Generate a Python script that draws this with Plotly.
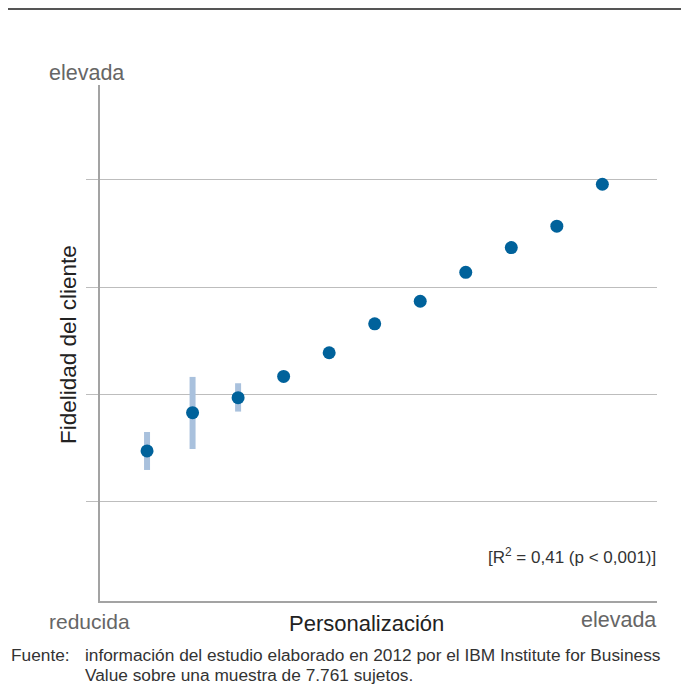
import plotly.graph_objects as go

# Data
personalizacion = [1, 2, 3, 4, 5, 6, 7, 8, 9, 10, 11]
fidelidad = [1.475, 1.832, 1.972, 2.17, 2.39, 2.66, 2.87, 3.14, 3.37, 3.57, 3.96]
error_plus = [0.177, 0.333, 0.134, 0, 0, 0, 0, 0, 0, 0, 0]
error_minus = [0.177, 0.339, 0.130, 0, 0, 0, 0, 0, 0, 0, 0]
grid_vals = [1, 2, 3, 4]

# page body adds an 8px offset; work in reference pixel coords and subtract it
OFF = 8
W, H = 689 - OFF, 690 - OFF
ML, MR, MT, MB = 100 - OFF, 32, 85 - OFF, 89
PW, PH = W - ML - MR, H - MT - MB


def px(x):
    return (x - OFF - ML) / PW


def py(y):
    return (H - MB - (y - OFF)) / PH


fig = go.Figure()
fig.add_trace(go.Scatter(
    x=personalizacion, y=fidelidad, mode="markers",
    marker=dict(color="#00629b", size=13),
    error_y=dict(type="data", symmetric=False, array=error_plus, arrayminus=error_minus,
                 color="#a9c1dd", thickness=6, width=0),
    showlegend=False, hoverinfo="skip",
))

font = "Liberation Sans, Arial, sans-serif"
fig.update_layout(
    width=W, height=H,
    margin=dict(l=ML, r=MR, t=MT, b=MB),
    paper_bgcolor="white", plot_bgcolor="white",
    font=dict(family=font),
    xaxis=dict(range=[-0.033, 12.2], showgrid=False, zeroline=False, showticklabels=False,
               showline=True, linecolor="#a3a3a3", linewidth=2, ticks=""),
    yaxis=dict(range=[0.077, 4.885], tickvals=grid_vals, showgrid=True, gridcolor="#bdbdbd",
               gridwidth=1, zeroline=False, showticklabels=False, showline=True,
               linecolor="#a3a3a3", linewidth=2, ticks="outside", ticklen=12,
               tickcolor="#bdbdbd", tickwidth=1),
)

fig.add_shape(type="line", xref="paper", yref="paper", x0=px(8), x1=px(689), y0=py(9), y1=py(9),
              line=dict(color="#555555", width=2))

anns = [
    dict(text="elevada", x=px(47), y=py(73), xanchor="left", yanchor="middle",
         font=dict(size=21.5, color="#666666")),
    dict(text="reducida", x=px(47), y=py(621), xanchor="left", yanchor="middle",
         font=dict(size=21, color="#666666")),
    dict(text="elevada", x=px(658), y=py(620), xanchor="right", yanchor="middle",
         font=dict(size=21.5, color="#666666")),
    dict(text="Personalización", x=px(366), y=py(623), xanchor="center", yanchor="middle",
         font=dict(size=22, color="#222222")),
    dict(text="Fidelidad del cliente", x=px(68), y=py(345), xanchor="center", yanchor="middle",
         textangle=-90, font=dict(size=22.5, color="#222222")),
    dict(text="[R<sup>2</sup> = 0,41 (p < 0,001)]", x=px(658), y=py(556), xanchor="right",
         yanchor="middle", font=dict(size=17, color="#333333")),
    dict(text="Fuente:", x=px(9), y=py(655), xanchor="left", yanchor="middle",
         font=dict(size=17.3, color="#333333")),
    dict(text="información del estudio elaborado en 2012 por el IBM Institute for Business",
         x=px(83), y=py(655), xanchor="left", yanchor="middle",
         font=dict(size=17.3, color="#333333")),
    dict(text="Value sobre una muestra de 7.761 sujetos.",
         x=px(83), y=py(675), xanchor="left", yanchor="middle",
         font=dict(size=17.3, color="#333333")),
]
for a in anns:
    fig.add_annotation(xref="paper", yref="paper", showarrow=False, **a)

fig.write_html("out.html")
